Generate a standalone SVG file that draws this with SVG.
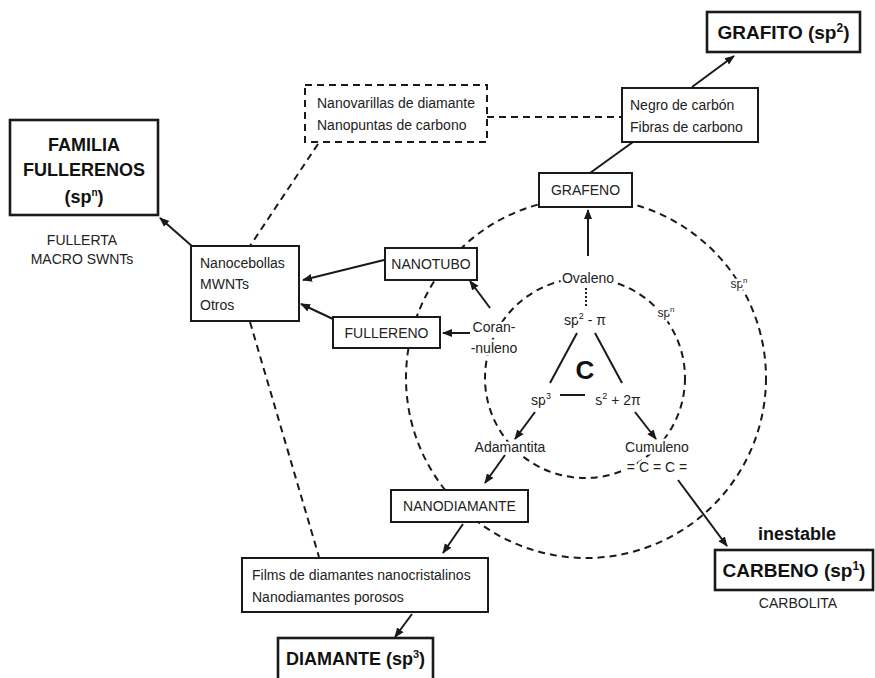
<svg xmlns="http://www.w3.org/2000/svg" width="875" height="678" viewBox="0 0 875 678">
  <style>
    .box { fill: #ffffff; stroke: #1a1a1a; stroke-width: 2; }
    .bbox { fill: #ffffff; stroke: #1a1a1a; stroke-width: 2.6; }
    .dbox { fill: #ffffff; stroke: #1a1a1a; stroke-width: 2; stroke-dasharray: 7 5; }
    .t { font-family: "Liberation Sans", Arial, sans-serif; font-size: 14px; fill: #222; }
    .c { text-anchor: middle; }
    .b { font-weight: bold; fill: #111; }
    .t.big { font-size: 19px; }
    .t.h18 { font-size: 18px; }
    .t.sm { font-size: 12px; }
    .t.huge { font-size: 26px; }
    .halo { stroke: #ffffff; stroke-width: 5; paint-order: stroke; stroke-linejoin: round; }
    .ln { stroke: #1a1a1a; stroke-width: 2; fill: none; }
    .arr { stroke: #1a1a1a; stroke-width: 2; fill: none; marker-end: url(#ah); }
    .dash { stroke: #1a1a1a; stroke-width: 2; fill: none; stroke-dasharray: 7 5; }
  </style>
  <defs>
    <marker id="ah" viewBox="0 0 10 10" refX="9" refY="5" markerWidth="5" markerHeight="5" orient="auto" markerUnits="strokeWidth">
      <path d="M0,1 L10,5 L0,9 z" fill="#1a1a1a"/>
    </marker>
  </defs>
  <rect width="875" height="678" fill="#ffffff"/>

  <!-- hybridisation rings -->
  <g id="rings">
    <circle cx="586" cy="378" r="180" class="dash"/>
    <circle cx="585" cy="378" r="100" class="dash"/>
  </g>

  <!-- connectors -->
  <g id="connectors">
    <line x1="692" y1="87" x2="734" y2="56" class="arr"/>
    <line x1="633" y1="142" x2="590" y2="173" class="ln"/>
    <line x1="588" y1="256" x2="588" y2="210" class="arr"/>
    <line x1="586" y1="288" x2="586" y2="308" class="ln" stroke-dasharray="2 2"/>
    <line x1="487" y1="117" x2="622" y2="117" class="dash"/>
    <line x1="318" y1="144" x2="250" y2="246" class="dash"/>
    <line x1="250" y1="322" x2="319" y2="557" class="dash"/>
    <line x1="193" y1="247" x2="160" y2="218" class="arr"/>
    <line x1="384" y1="260" x2="303" y2="280" class="arr"/>
    <line x1="333" y1="319" x2="301" y2="304" class="arr"/>
    <line x1="470" y1="333" x2="443" y2="333" class="arr"/>
    <line x1="490" y1="308" x2="470" y2="281" class="arr"/>
    <line x1="577" y1="333" x2="550" y2="383" class="ln"/>
    <line x1="595" y1="333" x2="622" y2="383" class="ln"/>
    <line x1="560" y1="395" x2="585" y2="395" class="ln"/>
    <line x1="535" y1="412" x2="515" y2="439" class="arr"/>
    <line x1="635" y1="412" x2="656" y2="439" class="arr"/>
    <line x1="505" y1="455" x2="485" y2="483" class="arr"/>
    <line x1="463" y1="524" x2="443" y2="553" class="arr"/>
    <line x1="412" y1="614" x2="395" y2="637" class="arr"/>
    <line x1="678" y1="480" x2="727" y2="546" class="arr"/>
  </g>

  <g id="grafito">
    <rect x="707" y="12" width="153" height="40" class="bbox"/>
    <text x="783.5" y="39" class="t c b big">GRAFITO (sp<tspan font-size="12" dy="-7">2</tspan><tspan dy="7">)</tspan></text>
  </g>

  <g id="negro">
    <rect x="622" y="88" width="136" height="54" class="box"/>
    <text x="630" y="110" class="t">Negro de carbón</text>
    <text x="630" y="132" class="t">Fibras de carbono</text>
  </g>

  <g id="nanovarillas">
    <rect x="305" y="85" width="182" height="57" class="dbox"/>
    <text x="317" y="108" class="t">Nanovarillas de diamante</text>
    <text x="317" y="130" class="t">Nanopuntas de carbono</text>
  </g>

  <g id="grafeno">
    <rect x="539" y="173" width="93" height="34" class="box"/>
    <text x="585.5" y="195" class="t c">GRAFENO</text>
  </g>

  <g id="familia">
    <rect x="10" y="120" width="148" height="95" class="bbox"/>
    <text x="84" y="151" class="t c b h18">FAMILIA</text>
    <text x="84" y="176" class="t c b h18">FULLERENOS</text>
    <text x="84" y="203" class="t c b h18">(sp<tspan font-size="10" dy="-7">n</tspan><tspan dy="7">)</tspan></text>
    <text x="82" y="245" class="t c">FULLERTA</text>
    <text x="82" y="264" class="t c">MACRO SWNTs</text>
  </g>

  <g id="nanocebollas">
    <rect x="191" y="246" width="108" height="75" class="box"/>
    <text x="200" y="268" class="t">Nanocebollas</text>
    <text x="200" y="289" class="t">MWNTs</text>
    <text x="200" y="310" class="t">Otros</text>
  </g>

  <g id="nanotubo">
    <rect x="385" y="248" width="92" height="32" class="box"/>
    <text x="431" y="269" class="t c">NANOTUBO</text>
  </g>

  <g id="fullereno">
    <rect x="333" y="317" width="107" height="31" class="box"/>
    <text x="386.5" y="338" class="t c">FULLERENO</text>
  </g>

  <g id="carbono">
    <text x="588" y="283" class="t c halo">Ovaleno</text>
    <text x="585" y="325" class="t c halo">sp<tspan font-size="9" dy="-6">2</tspan><tspan dy="6"> - π</tspan></text>
    <text x="585" y="379" class="t c b huge">C</text>
    <text x="541" y="405" class="t c halo">sp<tspan font-size="9" dy="-6">3</tspan></text>
    <text x="618" y="405" class="t c halo">s<tspan font-size="9" dy="-6">2</tspan><tspan dy="6"> + 2π</tspan></text>
    <text x="494" y="332" class="t c halo">Coran-</text>
    <text x="494" y="353" class="t c halo">-nuleno</text>
    <text x="510" y="452" class="t c halo">Adamantita</text>
    <text x="657" y="452" class="t c halo">Cumuleno</text>
    <text x="657" y="472" class="t c halo">= C = C =</text>
    <text x="666" y="317" class="t c sm halo">sp<tspan font-size="8" dy="-5">n</tspan></text>
    <text x="739" y="288" class="t c sm halo">sp<tspan font-size="8" dy="-5">n</tspan></text>
  </g>

  <g id="nanodiamante">
    <rect x="391" y="490" width="137" height="32" class="box"/>
    <text x="459.5" y="511" class="t c">NANODIAMANTE</text>
  </g>

  <g id="films">
    <rect x="242" y="558" width="246" height="54" class="box"/>
    <text x="252" y="580" class="t">Films de diamantes nanocristalinos</text>
    <text x="252" y="602" class="t">Nanodiamantes porosos</text>
  </g>

  <g id="diamante">
    <rect x="278" y="638" width="155" height="44" class="bbox"/>
    <text x="355.5" y="665" class="t c b h18">DIAMANTE (sp<tspan font-size="11" dy="-7">3</tspan><tspan dy="7">)</tspan></text>
  </g>

  <g id="carbeno">
    <text x="797" y="540" class="t c b h18">inestable</text>
    <rect x="715" y="550" width="158" height="40" class="bbox"/>
    <text x="794" y="577" class="t c b big">CARBENO (sp<tspan font-size="12" dy="-7">1</tspan><tspan dy="7">)</tspan></text>
    <text x="798" y="608" class="t c">CARBOLITA</text>
  </g>
</svg>
